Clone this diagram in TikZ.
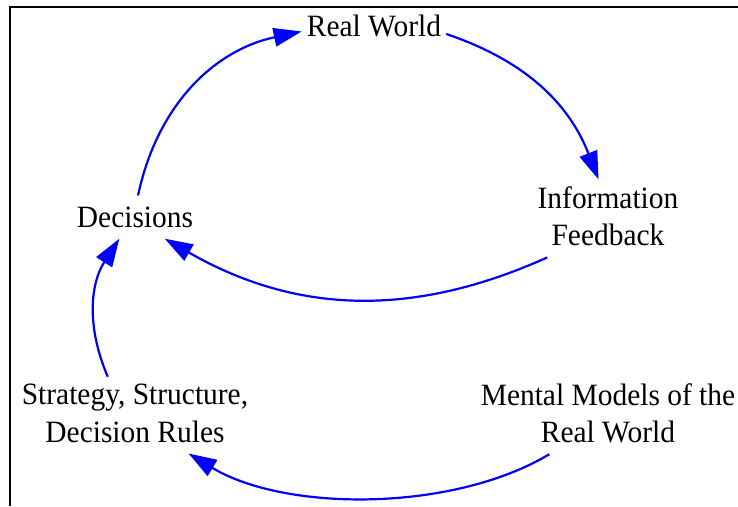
\documentclass[tikz,border=0pt]{standalone}
\usepackage{fontspec}
\setmainfont{Liberation Serif}[FakeStretch=0.95]
\usetikzlibrary{arrows.meta}
\begin{document}
\begin{tikzpicture}[x=1pt, y=1pt, auto,
            every node/.style={font=\fontsize{31}{37.5}\selectfont, align=center, inner xsep=5pt, inner ysep=11pt},
            link/.style={blue, line width=2.2pt, -{Triangle[length=28pt, width=18.5pt]}}]
            \useasboundingbox (0,0) rectangle (738,506);
            \draw[line width=2.2pt](10,0) -- (10,499) -- (738,499);
            \node(RW) at (374,479.6) {Real World};
            \node(D) at (135,288.9) {Decisions};
            \node(IF) at (608,289.55) {Information\\Feedback};
            \node(S) at (135,92.85) {Strategy, Structure,\\Decision Rules};
            \node(M) at (608,92.85) {Mental Models of the\\Real World};
            \draw[link](D.82) to[bend left=33](RW.184.4);
            \draw[link](RW.-6.5) to[bend left=25]([yshift=-4pt]IF.103);
            \draw[link](IF.214) to[bend left=27](D.-36.7);
            \draw[link]([yshift=-4pt]S.124) to[bend left=28](D.-126.5);
            \draw[link](M.215.8) to[bend left=31, looseness=0.8](S.-37.3);
            \end{tikzpicture}
\end{document}
